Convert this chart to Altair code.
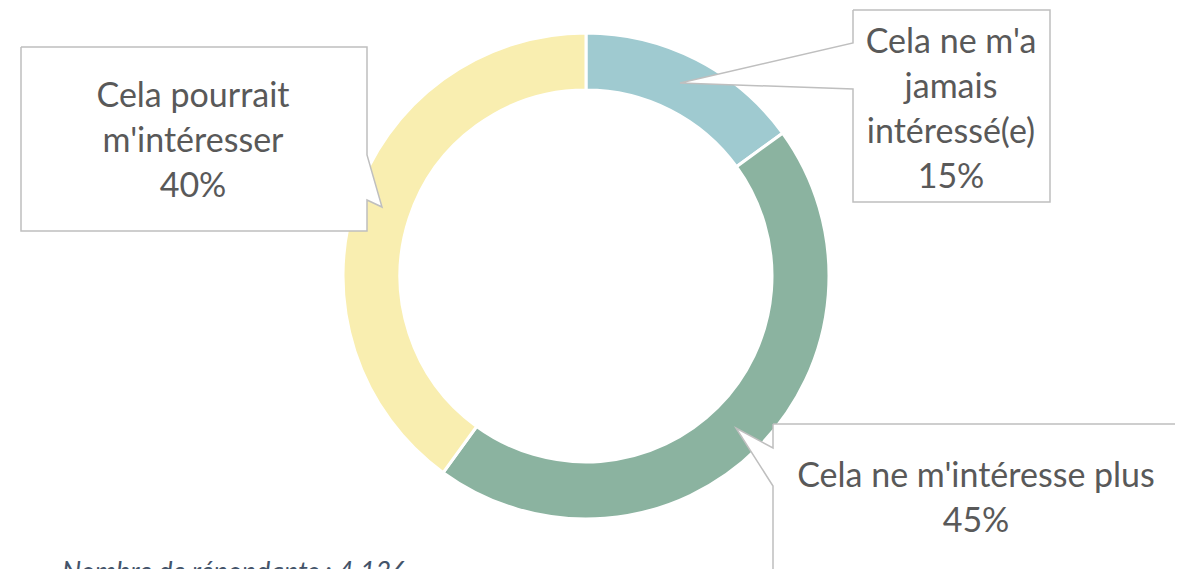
import altair as alt
import pandas as pd

# Data
categories = ["Cela ne m'a jamais intéressé(e)", "Cela ne m'intéresse plus", "Cela pourrait m'intéresser"]
values = [15, 45, 40]
colors = ["#9FCAD0", "#8BB3A0", "#F9EEB0"]
label_lines = [
    ["Cela ne m'a", "jamais", "intéressé(e)", "15%"],
    ["Cela ne m'intéresse plus", "45%"],
    ["Cela pourrait", "m'intéresser", "40%"],
]
footnote = "Nombre de répondants : 4 136"

# Layout (pixel positions inside the plot area)
W, H = 1167, 561
CX, CY = 578, 268
R_OUT, R_IN = 243, 186
label_pos = [(943, 35), (968, 469), (185, 89)]
callout_shapes = [
    [(845, 2), (1042, 2), (1042, 194), (845, 194), (845, 81), (672, 75), (845, 35), (845, 2)],
    [(765, 416), (1171, 416), (1171, 600), (765, 600), (765, 478), (728, 420), (765, 440), (765, 416)],
    [(13, 39), (359, 39), (359, 147), (374, 199), (359, 192), (359, 223), (13, 223), (13, 39)],
]

df = pd.DataFrame({"cat": categories, "val": values, "ord": [0, 1, 2]})

xs = alt.Scale(domain=[0, W], range=[0, W])
ys = alt.Scale(domain=[0, H], range=[0, H])

donut = alt.Chart(df).mark_arc(radius=R_OUT, radius2=R_IN, stroke="white", strokeWidth=3).encode(
    theta=alt.Theta("val:Q", stack=True),
    order=alt.Order("ord:Q"),
    color=alt.Color("cat:N", scale=alt.Scale(domain=categories, range=colors), legend=None),
    x=alt.value(CX),
    y=alt.value(CY),
)

rows = []
for i, shape in enumerate(callout_shapes):
    for j, (px, py) in enumerate(shape):
        rows.append({"box": i, "k": j, "px": px, "py": py})
shp = pd.DataFrame(rows)

callouts = alt.Chart(shp).mark_line(fill="white", stroke="#BFBFBF", strokeWidth=1.5, interpolate="linear").encode(
    x=alt.X("px:Q", scale=xs, axis=None),
    y=alt.Y("py:Q", scale=ys, axis=None),
    detail="box:N",
    order="k:Q",
)

lab = pd.DataFrame({
    "txt": label_lines,
    "px": [p[0] for p in label_pos],
    "py": [p[1] for p in label_pos],
})
labels = alt.Chart(lab).mark_text(
    font="Lato", fontSize=34, color="#595959", lineHeight=45, align="center", baseline="middle"
).encode(
    x=alt.X("px:Q", scale=xs, axis=None),
    y=alt.Y("py:Q", scale=ys, axis=None),
    text="txt",
)

foot = alt.Chart(pd.DataFrame({"t": [footnote], "px": [54], "py": [573]})).mark_text(
    font="Lato", fontSize=27, fontStyle="italic", color="#44546A", align="left", baseline="alphabetic"
).encode(
    x=alt.X("px:Q", scale=xs, axis=None),
    y=alt.Y("py:Q", scale=ys, axis=None),
    text="t:N",
)

chart = alt.layer(donut, callouts, labels, foot).properties(
    width=W, height=H, padding=0, autosize=alt.AutoSizeParams(type="none")
).configure_view(stroke=None).resolve_scale(x="shared", y="shared")

chart.save("out.html", embed_options={"renderer": "svg", "actions": False})
